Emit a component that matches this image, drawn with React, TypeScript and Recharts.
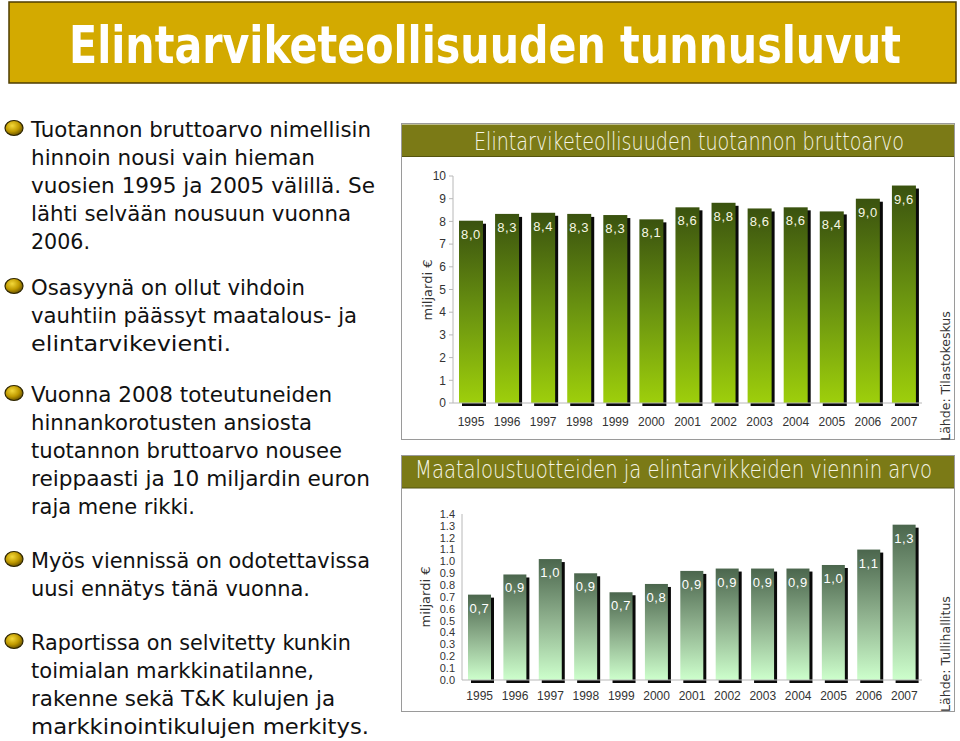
import { BarChart, Bar, XAxis, YAxis, LabelList } from 'recharts'

const years = ['1995', '1996', '1997', '1998', '1999', '2000', '2001', '2002', '2003', '2004', '2005', '2006', '2007']
const grossValue = [8.03, 8.33, 8.38, 8.33, 8.28, 8.09, 8.62, 8.82, 8.57, 8.62, 8.44, 9.0, 9.58]
const exportValue = [0.72, 0.89, 1.02, 0.9, 0.74, 0.81, 0.92, 0.94, 0.94, 0.94, 0.97, 1.1, 1.31]
const grossTicks = [0, 1, 2, 3, 4, 5, 6, 7, 8, 9, 10]
const exportTicks = [0, 0.1, 0.2, 0.3, 0.4, 0.5, 0.6, 0.7, 0.8, 0.9, 1.0, 1.1, 1.2, 1.3, 1.4]

const grossData = years.map((year, i) => ({ year, value: grossValue[i] }))
const exportData = years.map((year, i) => ({ year, value: exportValue[i] }))

// slide text, one entry per bullet: first baseline + [line, width]
const paragraphs: { top: number; lines: [string, number][] }[] = [
  {
    top: 137,
    lines: [
      ['Tuotannon bruttoarvo nimellisin', 340],
      ['hinnoin nousi vain hieman', 284],
      ['vuosien 1995 ja 2005 välillä. Se', 344],
      ['lähti selvään nousuun vuonna', 320],
      ['2006.', 59],
    ],
  },
  {
    top: 295,
    lines: [
      ['Osasyynä on ollut vihdoin', 274],
      ['vauhtiin päässyt maatalous- ja', 326],
      ['elintarvikevienti.', 200],
    ],
  },
  {
    top: 402,
    lines: [
      ['Vuonna 2008 toteutuneiden', 301],
      ['hinnankorotusten ansiosta', 281],
      ['tuotannon bruttoarvo nousee', 311],
      ['reippaasti ja 10 miljardin euron', 339],
      ['raja mene rikki.', 164],
    ],
  },
  {
    top: 568,
    lines: [
      ['Myös viennissä on odotettavissa', 339],
      ['uusi ennätys tänä vuonna.', 279],
    ],
  },
  {
    top: 650,
    lines: [
      ['Raportissa on selvitetty kunkin', 320],
      ['toimialan markkinatilanne,', 283],
      ['rakenne sekä T&K kulujen ja', 304],
      ['markkinointikulujen merkitys.', 338],
    ],
  },
]

const FONT = "'DejaVu Sans', 'Liberation Sans', sans-serif"
const TICK_FONT = "'Liberation Sans', Arial, sans-serif"

const shadowBar = (fill: string) => (props: any) => {
  const { x, y, width, height } = props
  if (!height || height <= 0) return <g />
  return (
    <g>
      <rect x={x + 3} y={y + 3} width={width} height={height} fill="#0a0a0a" />
      <rect x={x} y={y} width={width} height={height} fill={fill} />
    </g>
  )
}

const valueLabel = (color: string) => (props: any) => {
  const { x, y, width, value } = props
  return (
    <text
      x={Number(x) + Number(width) / 2}
      y={Number(y) + 18}
      textAnchor="middle"
      fill={color}
      fontSize={13}
      letterSpacing={0.6}
      fontFamily={TICK_FONT}
    >
      {Number(value).toFixed(1).replace('.', ',')}
    </text>
  )
}

function PageArt() {
  return (
    <svg width={960} height={741} style={{ position: 'absolute', left: 0, top: 0 }}>
      <defs>
        <linearGradient id="grossFill" x1="0" y1="0" x2="0" y2="1">
          <stop offset="0" stopColor="#3a520f" />
          <stop offset="0.5" stopColor="#6a9310" />
          <stop offset="1" stopColor="#9ecf0b" />
        </linearGradient>
        <linearGradient id="exportFill" x1="0" y1="0" x2="0" y2="1">
          <stop offset="0" stopColor="#4b664d" />
          <stop offset="0.5" stopColor="#8fb18e" />
          <stop offset="1" stopColor="#cdffcc" />
        </linearGradient>
        <radialGradient id="bulletFill" cx="0.4" cy="0.35" r="0.7">
          <stop offset="0" stopColor="#f3d83a" />
          <stop offset="0.55" stopColor="#c09a00" />
          <stop offset="1" stopColor="#5e4a00" />
        </radialGradient>
      </defs>

      <rect x={9} y={2} width={947} height={81} fill="#d3aa00" stroke="#4d3d00" strokeWidth={1.5} />
      <text
        x={69}
        y={63}
        textLength={832}
        lengthAdjust="spacingAndGlyphs"
        fontFamily="'DejaVu Sans Condensed', 'DejaVu Sans', sans-serif"
        fontWeight="bold"
        fontSize={52}
        fill="#ffffff"
      >
        Elintarviketeollisuuden tunnusluvut
      </text>

      {paragraphs.map((p, pi) => (
        <g key={pi}>
          <ellipse cx={14} cy={p.top - 9} rx={9} ry={7.5} fill="url(#bulletFill)" stroke="#2e2500" strokeWidth={1.2} />
          {p.lines.map(([line, w], li) => (
            <text
              key={li}
              x={31}
              y={p.top + li * 28}
              textLength={w}
              lengthAdjust="spacingAndGlyphs"
              fontFamily={FONT}
              fontSize={21}
              fill="#111"
            >
              {line}
            </text>
          ))}
        </g>
      ))}

      <rect x={401.5} y={123.5} width={553} height={316} fill="#fff" stroke="#9a9a9a" />
      <rect x={402} y={124.5} width={552} height={32} fill="#7b7a16" />
      <line x1={402} x2={954} y1={156.5} y2={156.5} stroke="#55540e" />
      <text
        x={474}
        y={150}
        textLength={430}
        lengthAdjust="spacingAndGlyphs"
        fontFamily={FONT}
        fontWeight={200}
        fontSize={24}
        fill="#f6f6e8"
      >
        Elintarviketeollisuuden tuotannon bruttoarvo
      </text>
      <text x={427} y={290} transform="rotate(-90 427 290)" textAnchor="middle" dominantBaseline="central" fontFamily={FONT} fontSize={13} fill="#333">
        miljardi €
      </text>
      <text x={945} y={376} transform="rotate(-90 945 376)" textAnchor="middle" dominantBaseline="central" fontFamily={FONT} fontSize={12.5} fill="#333">
        Lähde: Tilastokeskus
      </text>

      <rect x={401.5} y={455.5} width={553} height={256} fill="#fff" stroke="#9a9a9a" />
      <rect x={402} y={456} width={552} height={32} fill="#7b7a16" />
      <line x1={402} x2={954} y1={488} y2={488} stroke="#55540e" />
      <text
        x={415}
        y={478}
        textLength={517}
        lengthAdjust="spacingAndGlyphs"
        fontFamily={FONT}
        fontWeight={200}
        fontSize={24}
        fill="#f6f6e8"
      >
        Maataloustuotteiden ja elintarvikkeiden viennin arvo
      </text>
      <text x={425} y={597} transform="rotate(-90 425 597)" textAnchor="middle" dominantBaseline="central" fontFamily={FONT} fontSize={13} fill="#333">
        miljardi €
      </text>
      <text x={945} y={654} transform="rotate(-90 945 654)" textAnchor="middle" dominantBaseline="central" fontFamily={FONT} fontSize={12.5} fill="#333">
        Lähde: Tullihallitus
      </text>
    </svg>
  )
}

export default function App() {
  const tick = { fontSize: 12, fill: '#333', fontFamily: TICK_FONT }
  const smallTick = { fontSize: 11, fill: '#333', fontFamily: TICK_FONT }
  return (
    <div style={{ position: 'absolute', left: 0, top: 0, width: 960, height: 741, background: '#fff', overflow: 'hidden' }}>
      <PageArt />

      <div style={{ position: 'absolute', left: 401, top: 157 }}>
        <BarChart width={554} height={283} data={grossData} margin={{ top: 19, right: 33, bottom: 7, left: 0 }}>
          <XAxis
            dataKey="year"
            interval={0}
            height={30}
            tickLine={false}
            tickSize={6}
            tickMargin={8}
            axisLine={{ stroke: '#b8b8b8' }}
            tick={tick}
          />
          <YAxis
            width={52}
            domain={[0, 10]}
            ticks={grossTicks}
            interval={0}
            tickSize={4}
            tickMargin={3}
            tickLine={{ stroke: '#b8b8b8' }}
            axisLine={{ stroke: '#b8b8b8' }}
            tick={tick}
          />
          <Bar dataKey="value" barSize={24} shape={shadowBar('url(#grossFill)')} isAnimationActive={false}>
            <LabelList dataKey="value" content={valueLabel('#f7f7e4')} />
          </Bar>
        </BarChart>
      </div>

      <div style={{ position: 'absolute', left: 401, top: 488 }}>
        <BarChart width={554} height={224} data={exportData} margin={{ top: 26, right: 33, bottom: 6, left: 0 }}>
          <XAxis
            dataKey="year"
            interval={0}
            height={26}
            tickLine={false}
            tickSize={6}
            tickMargin={5}
            axisLine={{ stroke: '#b8b8b8' }}
            tick={tick}
          />
          <YAxis
            width={61}
            domain={[0, 1.4]}
            ticks={exportTicks}
            interval={0}
            tickLine={false}
            tickSize={0}
            tickMargin={7}
            axisLine={{ stroke: '#b8b8b8' }}
            tick={smallTick}
            tickFormatter={(v: number) => v.toFixed(1)}
          />
          <Bar dataKey="value" barSize={23} shape={shadowBar('url(#exportFill)')} isAnimationActive={false}>
            <LabelList dataKey="value" content={valueLabel('#ffffff')} />
          </Bar>
        </BarChart>
      </div>
    </div>
  )
}
